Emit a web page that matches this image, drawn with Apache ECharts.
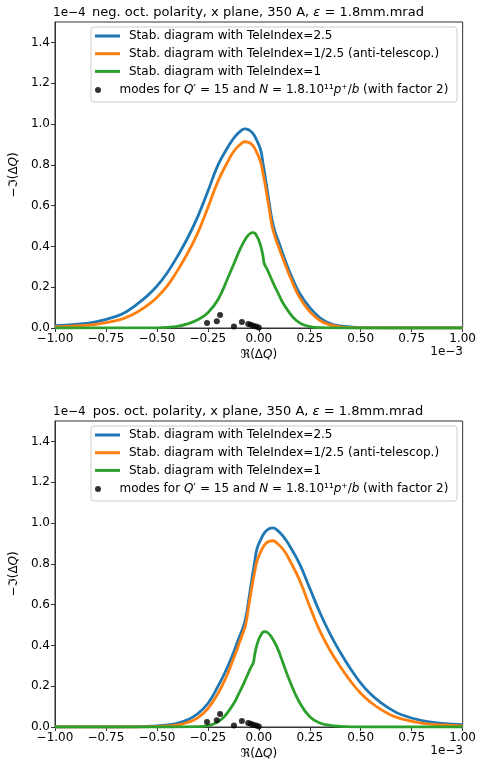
<!DOCTYPE html>
<html><head><meta charset="utf-8">
<script src="https://cdn.jsdelivr.net/npm/echarts@6/dist/echarts.min.js"></script>
<style>html,body{margin:0;padding:0;background:#fff}#c{width:479px;height:762px}</style>
</head><body><div id="c"></div>
<script>
// x in units of 1e-3, y in units of 1e-4
const topX = [-1.0,-0.9,-0.8,-0.7,-0.65,-0.6,-0.55,-0.5,-0.45,-0.4,-0.35,-0.3,-0.25,-0.2,-0.15,-0.12,-0.09,-0.07,-0.05,-0.03,-0.01,0.01,0.02,0.03,0.05,0.065,0.08,0.1,0.13,0.16,0.2,0.25,0.3,0.35,0.4,0.45,0.5,0.6,0.7,0.8,0.9,1.0];
const blueTop = [0.012,0.018,0.03,0.057,0.08,0.115,0.155,0.205,0.27,0.35,0.44,0.545,0.67,0.80,0.89,0.935,0.965,0.976,0.972,0.955,0.92,0.87,0.81,0.75,0.62,0.53,0.47,0.415,0.33,0.255,0.17,0.10,0.05,0.022,0.01,0.005,0.002,0.0005,0,0,0,0];
const orangeTop = [0.006,0.01,0.018,0.036,0.052,0.076,0.108,0.15,0.205,0.28,0.365,0.465,0.59,0.72,0.82,0.87,0.90,0.913,0.91,0.895,0.86,0.81,0.76,0.71,0.59,0.50,0.445,0.39,0.31,0.235,0.15,0.08,0.037,0.015,0.006,0.002,0.001,0,0,0,0,0];
const greenTopX = [-1.0,-0.5,-0.45,-0.4,-0.35,-0.3,-0.25,-0.2,-0.15,-0.12,-0.09,-0.06,-0.04,-0.03,-0.02,-0.01,0.0,0.01,0.02,0.027,0.04,0.06,0.08,0.1,0.12,0.15,0.18,0.21,0.25,0.3,0.45,1.0];
const greenTop = [0,0.001,0.003,0.008,0.02,0.04,0.075,0.14,0.25,0.32,0.39,0.445,0.465,0.468,0.465,0.45,0.43,0.40,0.355,0.315,0.29,0.245,0.2,0.16,0.12,0.075,0.04,0.02,0.007,0.002,0,0];

const botX = [-1.0,-0.9,-0.8,-0.7,-0.6,-0.5,-0.45,-0.4,-0.35,-0.3,-0.25,-0.2,-0.16,-0.13,-0.1,-0.08,-0.065,-0.05,-0.03,-0.02,-0.01,0.01,0.03,0.05,0.07,0.09,0.12,0.15,0.2,0.25,0.3,0.35,0.4,0.45,0.5,0.55,0.6,0.65,0.7,0.8,0.9,1.0];
const blueBot = [0,0,0,0,0.001,0.006,0.01,0.018,0.035,0.065,0.115,0.2,0.28,0.35,0.43,0.48,0.53,0.62,0.75,0.81,0.87,0.92,0.955,0.972,0.976,0.965,0.935,0.89,0.80,0.68,0.56,0.455,0.365,0.285,0.215,0.16,0.118,0.085,0.06,0.031,0.018,0.012];
const orangeBot = [0,0,0,0,0,0.003,0.005,0.01,0.022,0.045,0.09,0.165,0.245,0.32,0.40,0.455,0.50,0.59,0.71,0.76,0.81,0.86,0.895,0.91,0.913,0.90,0.87,0.82,0.72,0.59,0.47,0.375,0.295,0.225,0.165,0.12,0.085,0.058,0.04,0.019,0.01,0.006];
const greenBotX = [-1.0,-0.45,-0.3,-0.25,-0.21,-0.18,-0.15,-0.12,-0.1,-0.08,-0.06,-0.04,-0.027,-0.02,-0.01,0.0,0.01,0.02,0.03,0.04,0.06,0.09,0.12,0.15,0.2,0.25,0.3,0.35,0.4,0.45,0.5,1.0];
const greenBot = [0,0,0.002,0.007,0.02,0.04,0.075,0.12,0.16,0.2,0.245,0.29,0.315,0.355,0.40,0.43,0.45,0.465,0.468,0.465,0.445,0.39,0.31,0.23,0.12,0.05,0.02,0.008,0.003,0.001,0,0];

const modesX = [-0.254,-0.206,-0.19,-0.122,-0.083,-0.052,-0.04,-0.027,-0.013,0.0];
const modesY = [0.024,0.033,0.064,0.007,0.029,0.02,0.016,0.011,0.007,0.003];

const xTicks = [-1.0,-0.75,-0.5,-0.25,0,0.25,0.5,0.75,1.0];
const yTicks = [0,0.2,0.4,0.6,0.8,1.0,1.2,1.4];

const names = ['Stab. diagram with TeleIndex=2.5','Stab. diagram with TeleIndex=1/2.5 (anti-telescop.)','Stab. diagram with TeleIndex=1'];
const modeName = 'modes';
const titles = ['neg. oct. polarity, x plane, 350 A, ','pos. oct. polarity, x plane, 350 A, '];
const colors = ['#1f77b4','#ff7f0e','#2ca02c'];

const FONT = 'DejaVu Sans';
const pair = (xs, ys) => xs.map((x,i)=>[x, ys[i]]);
const fmtX = v => (v<0?'\u2212':'') + Math.abs(v).toFixed(2);

const gridTops = [22, 421];
const H = 306;

function xAxis(g){
  return {type:'value', gridIndex:g, min:-1, max:1, interval:0.25,
    axisLine:{show:true, onZero:false, lineStyle:{color:'#333', width:1}},
    axisTick:{show:true, length:4, lineStyle:{color:'#333'}, customValues:xTicks},
    axisLabel:{fontSize:12, fontFamily:FONT, color:'#000', margin:5, formatter:fmtX, customValues:xTicks},
    splitLine:{show:false},
    name:'{n|\u211c(\u0394}{i|Q}{n|)}', nameLocation:'middle', nameGap:21,
    nameTextStyle:{rich:{n:{fontSize:12,fontFamily:FONT,color:'#000'}, i:{fontSize:12,fontFamily:FONT,fontStyle:'italic',color:'#000'}}}
  };
}
function yAxis(g){
  return {type:'value', gridIndex:g, min:0, max:1.5, interval:0.2,
    axisLine:{show:true, onZero:false, lineStyle:{color:'#333', width:1}},
    axisTick:{show:true, length:4, lineStyle:{color:'#333'}, customValues:yTicks},
    axisLabel:{fontSize:12, fontFamily:FONT, color:'#000', margin:5, formatter:v=>v.toFixed(1), customValues:yTicks},
    splitLine:{show:false},
    name:'{n|\u2212\u2111(\u0394}{i|Q}{n|)}', nameLocation:'middle', nameGap:30, nameRotate:90,
    nameTextStyle:{rich:{n:{fontSize:12,fontFamily:FONT,color:'#000'}, i:{fontSize:12,fontFamily:FONT,fontStyle:'italic',color:'#000'}}}
  };
}

const curves = [
  [pair(topX, blueTop), pair(topX, orangeTop), pair(greenTopX, greenTop)],
  [pair(botX, blueBot), pair(botX, orangeBot), pair(greenBotX, greenBot)]
];

const series = [];
const legends = [];
const graphics = [];
[0,1].forEach(g => {
  curves[g].forEach((d, k) => {
    series.push({type:'line', name:names[k], xAxisIndex:g, yAxisIndex:g, data:d,
      symbol:'none', smooth:0.45, z:2+k*0.1,
      lineStyle:{color:colors[k], width:2.8}, itemStyle:{color:colors[k]}});
  });
  series.push({type:'scatter', name:modeName, xAxisIndex:g, yAxisIndex:g, data:pair(modesX, modesY),
    symbol:'circle', symbolSize:6, itemStyle:{color:'#000'}, z:3});
  const t = gridTops[g];
  legends.push({orient:'vertical', left:95, top:t+7, itemWidth:25, itemHeight:3, itemGap:3.7, padding:0,
    data:names.map(n=>({name:n, icon:'rect'})), selectedMode:false,
    textStyle:{fontSize:12, fontFamily:FONT, color:'#000', lineHeight:14, padding:[0,0,0,4]}});
  legends.push({orient:'vertical', left:95, top:t+61, itemWidth:25, itemHeight:6, padding:0,
    data:[{name:modeName, icon:'circle'}], selectedMode:false,
    formatter:()=>'{t|modes for }{i|Q}{t|\u2032 = 15 and }{i|N}{t| = 1.8.10\u00b9\u00b9}{i|p}{t|\u207a/}{i|b}{t| (with factor 2)}',
    textStyle:{fontSize:12, fontFamily:FONT, color:'#000', lineHeight:14, padding:[0,0,0,4],
      rich:{t:{fontSize:12,fontFamily:FONT,color:'#000'}, i:{fontSize:12,fontFamily:FONT,fontStyle:'italic',color:'#000'}}}});
  graphics.push({type:'rect', z:3, shape:{x:91, y:t+5, width:366, height:75, r:3},
    style:{fill:'rgba(255,255,255,0.8)', stroke:'#cccccc', lineWidth:1}});
  graphics.push({type:'text', z:5, x:258, y:t-9, style:{
    text:'{n|'+titles[g]+'}{i|\u03b5}{n| = 1.8mm.mrad}', textAlign:'center', textVerticalAlign:'middle',
    rich:{n:{fontSize:13,fontFamily:FONT,fill:'#000'}, i:{fontSize:13,fontFamily:FONT,fontStyle:'italic',fill:'#000'}}}});
  graphics.push({type:'text', z:5, x:53, y:t-9, style:{text:'1e\u22124', font:'12px "DejaVu Sans"', fill:'#000', textAlign:'left', textVerticalAlign:'middle'}});
  graphics.push({type:'text', z:5, x:463, y:t+H+24, style:{text:'1e\u22123', font:'12px "DejaVu Sans"', fill:'#000', textAlign:'right', textVerticalAlign:'middle'}});
});

const chart = echarts.init(document.getElementById('c'), null, {renderer:'canvas'});
chart.setOption({
  animation:false,
  backgroundColor:'#fff',
  grid:[0,1].map(g=>({left:52, top:gridTops[g], width:411, height:H, show:true, borderColor:'#333', borderWidth:1, backgroundColor:'transparent'})),
  xAxis:[xAxis(0), xAxis(1)],
  yAxis:[yAxis(0), yAxis(1)],
  legend:legends,
  series:series,
  graphic:graphics
});
</script></body></html>
